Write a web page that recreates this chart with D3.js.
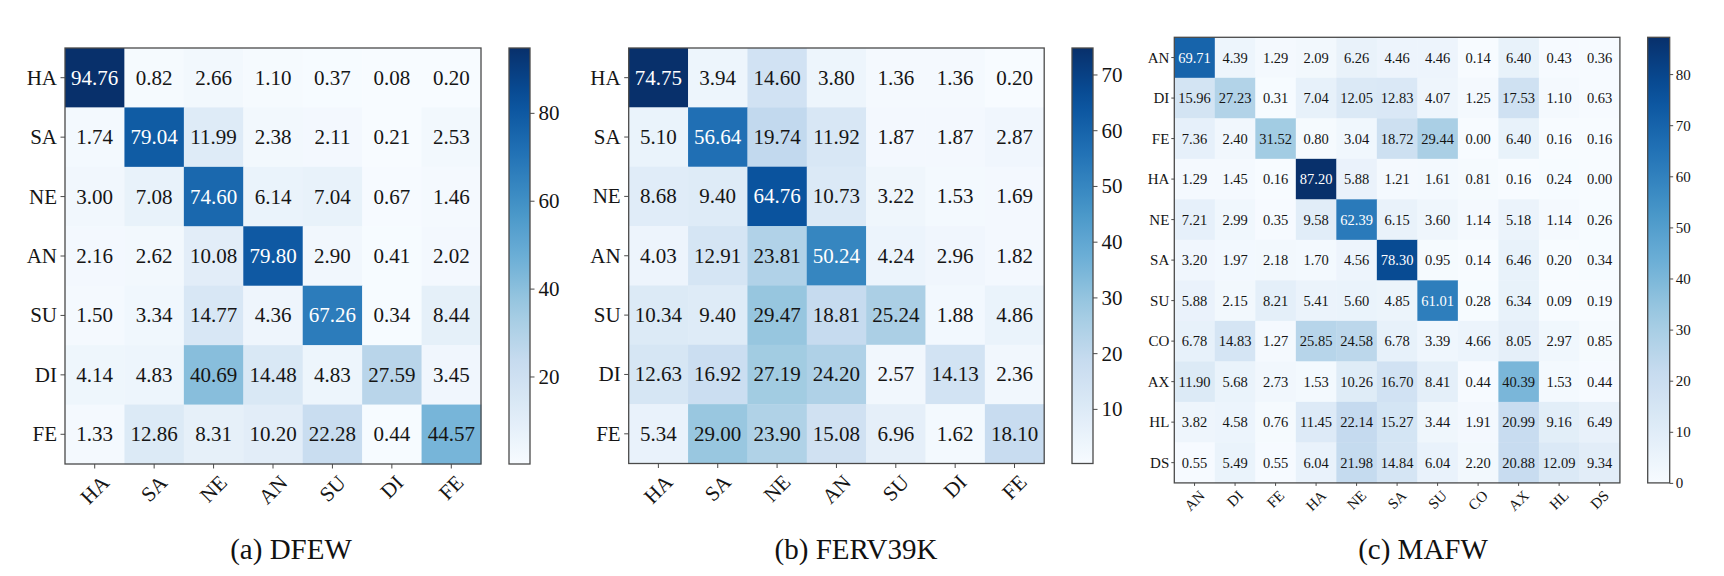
<!DOCTYPE html>
<html>
<head>
<meta charset="utf-8">
<script src="https://cdn.jsdelivr.net/npm/d3@7"></script>
<style>
  html, body { margin: 0; padding: 0; background: #fff; }
  svg { display: block; }
  text { font-family: "Liberation Serif", "Times New Roman", "DejaVu Serif", serif; }
</style>
</head>
<body>
<svg id="chart" width="1724" height="576"></svg>
<script>
// ---------------- DATA ----------------
const dfewLabels = ["HA", "SA", "NE", "AN", "SU", "DI", "FE"];
const dfewValues = [
  [94.76, 0.82, 2.66, 1.10, 0.37, 0.08, 0.20],
  [1.74, 79.04, 11.99, 2.38, 2.11, 0.21, 2.53],
  [3.00, 7.08, 74.60, 6.14, 7.04, 0.67, 1.46],
  [2.16, 2.62, 10.08, 79.80, 2.90, 0.41, 2.02],
  [1.50, 3.34, 14.77, 4.36, 67.26, 0.34, 8.44],
  [4.14, 4.83, 40.69, 14.48, 4.83, 27.59, 3.45],
  [1.33, 12.86, 8.31, 10.20, 22.28, 0.44, 44.57]
];
const dfewTicks = [20, 40, 60, 80];
const dfewCaption = "(a) DFEW";

const fervLabels = ["HA", "SA", "NE", "AN", "SU", "DI", "FE"];
const fervValues = [
  [74.75, 3.94, 14.60, 3.80, 1.36, 1.36, 0.20],
  [5.10, 56.64, 19.74, 11.92, 1.87, 1.87, 2.87],
  [8.68, 9.40, 64.76, 10.73, 3.22, 1.53, 1.69],
  [4.03, 12.91, 23.81, 50.24, 4.24, 2.96, 1.82],
  [10.34, 9.40, 29.47, 18.81, 25.24, 1.88, 4.86],
  [12.63, 16.92, 27.19, 24.20, 2.57, 14.13, 2.36],
  [5.34, 29.00, 23.90, 15.08, 6.96, 1.62, 18.10]
];
const fervTicks = [10, 20, 30, 40, 50, 60, 70];
const fervCaption = "(b) FERV39K";

const mafwLabels = ["AN", "DI", "FE", "HA", "NE", "SA", "SU", "CO", "AX", "HL", "DS"];
const mafwValues = [
  [69.71, 4.39, 1.29, 2.09, 6.26, 4.46, 4.46, 0.14, 6.40, 0.43, 0.36],
  [15.96, 27.23, 0.31, 7.04, 12.05, 12.83, 4.07, 1.25, 17.53, 1.10, 0.63],
  [7.36, 2.40, 31.52, 0.80, 3.04, 18.72, 29.44, 0.00, 6.40, 0.16, 0.16],
  [1.29, 1.45, 0.16, 87.20, 5.88, 1.21, 1.61, 0.81, 0.16, 0.24, 0.00],
  [7.21, 2.99, 0.35, 9.58, 62.39, 6.15, 3.60, 1.14, 5.18, 1.14, 0.26],
  [3.20, 1.97, 2.18, 1.70, 4.56, 78.30, 0.95, 0.14, 6.46, 0.20, 0.34],
  [5.88, 2.15, 8.21, 5.41, 5.60, 4.85, 61.01, 0.28, 6.34, 0.09, 0.19],
  [6.78, 14.83, 1.27, 25.85, 24.58, 6.78, 3.39, 4.66, 8.05, 2.97, 0.85],
  [11.90, 5.68, 2.73, 1.53, 10.26, 16.70, 8.41, 0.44, 40.39, 1.53, 0.44],
  [3.82, 4.58, 0.76, 11.45, 22.14, 15.27, 3.44, 1.91, 20.99, 9.16, 6.49],
  [0.55, 5.49, 0.55, 6.04, 21.98, 14.84, 6.04, 2.20, 20.88, 12.09, 9.34]
];
const mafwTicks = [0, 10, 20, 30, 40, 50, 60, 70, 80];
const mafwCaption = "(c) MAFW";

// ---------------- STYLE / LAYOUT ----------------
const bluesStops = ["#f7fbff", "#deebf7", "#c6dbef", "#9ecae1", "#6baed6",
                    "#4292c6", "#2171b5", "#08519c", "#08306b"];
const blues = d3.scaleLinear()
  .domain(bluesStops.map((_, i) => i / (bluesStops.length - 1)))
  .range(bluesStops)
  .interpolate(d3.interpolateRgb)
  .clamp(true);

const panels = [
  { id: "p1", labels: dfewLabels, values: dfewValues, ticks: dfewTicks, caption: dfewCaption,
    x0: 65, y0: 48, size: 416, cbX: 509, cbW: 21, font: 21, axFont: 21, tickLen: 4.5, pad: 3.5,
    cbTickLen: 4.5, cbPad: 4, capX: 291 },
  { id: "p2", labels: fervLabels, values: fervValues, ticks: fervTicks, caption: fervCaption,
    x0: 628.7, y0: 48, size: 415.5, cbX: 1072, cbW: 21, font: 21, axFont: 21, tickLen: 4.5, pad: 3.5,
    cbTickLen: 4.5, cbPad: 4, capX: 856 },
  { id: "p3", labels: mafwLabels, values: mafwValues, ticks: mafwTicks, caption: mafwCaption,
    x0: 1174.3, y0: 37.3, size: 445.6, cbX: 1647.7, cbW: 22, font: 14.5, axFont: 15, tickLen: 3, pad: 2,
    cbTickLen: 3.5, cbPad: 2.5, capX: 1423 }
];
const captionY = 559;
const captionFont = 29;
const frameColor = "#4a4a4a";
const darkText = "#151515";

const svg = d3.select("#chart");
const defs = svg.append("defs");

panels.forEach(p => {
  const g = svg.append("g").attr("id", p.id);
  const x = d3.scaleBand().domain(p.labels).range([p.x0, p.x0 + p.size]);
  const y = d3.scaleBand().domain(p.labels).range([p.y0, p.y0 + p.size]);
  const flat = p.values.flat();
  const ext = d3.extent(flat);
  const norm = d3.scaleLinear().domain(ext).range([0, 1]);
  const thresh = (ext[0] + ext[1]) / 2;

  const cells = [];
  p.values.forEach((row, i) => row.forEach((v, j) => cells.push({ r: p.labels[i], c: p.labels[j], v })));

  g.append("g").selectAll("rect").data(cells).join("rect")
    .attr("x", d => x(d.c))
    .attr("y", d => y(d.r))
    .attr("width", x.bandwidth() + 0.4)
    .attr("height", y.bandwidth() + 0.4)
    .attr("fill", d => blues(norm(d.v)));

  g.append("g").selectAll("text").data(cells).join("text")
    .attr("x", d => x(d.c) + x.bandwidth() / 2)
    .attr("y", d => y(d.r) + y.bandwidth() / 2)
    .attr("text-anchor", "middle")
    .attr("dominant-baseline", "central")
    .attr("font-size", p.font)
    .attr("fill", d => d.v > thresh ? "#ffffff" : darkText)
    .text(d => d.v.toFixed(2));

  // frame
  g.append("rect")
    .attr("x", p.x0).attr("y", p.y0)
    .attr("width", p.size).attr("height", p.size)
    .attr("fill", "none").attr("stroke", frameColor).attr("stroke-width", 1.3);

  // left axis
  const ya = g.append("g")
    .attr("transform", `translate(${p.x0},0)`)
    .call(d3.axisLeft(y).tickSize(p.tickLen).tickPadding(p.pad));
  ya.select(".domain").remove();
  ya.selectAll(".tick line").attr("stroke", frameColor).attr("stroke-width", 1);
  ya.selectAll(".tick text")
    .attr("font-size", p.axFont)
    .attr("font-family", null)
    .attr("fill", darkText)
    .attr("dy", null)
    .attr("dominant-baseline", "central");

  // bottom axis
  const bottom = p.y0 + p.size;
  const xa = g.append("g")
    .attr("transform", `translate(0,${bottom})`)
    .call(d3.axisBottom(x).tickSize(p.tickLen).tickPadding(p.pad));
  xa.select(".domain").remove();
  xa.selectAll(".tick line").attr("stroke", frameColor).attr("stroke-width", 1);
  xa.selectAll(".tick text")
    .attr("font-size", p.axFont)
    .attr("font-family", null)
    .attr("fill", darkText)
    .attr("dy", null)
    .attr("text-anchor", "middle")
    .attr("dominant-baseline", "central")
    .each(function () {
      const w = this.getComputedTextLength();
      const h = p.axFont * 0.95;
      const bh = (w + h) * Math.SQRT1_2;
      const cy = p.tickLen + p.pad + bh / 2;
      d3.select(this)
        .attr("x", 0).attr("y", 0)
        .attr("transform", `translate(0,${cy}) rotate(-45)`);
    });

  // colorbar
  const gid = "grad-" + p.id;
  const grad = defs.append("linearGradient").attr("id", gid)
    .attr("x1", 0).attr("y1", 1).attr("x2", 0).attr("y2", 0);
  d3.range(0, 1.0001, 0.05).forEach(t => {
    grad.append("stop").attr("offset", t).attr("stop-color", blues(t));
  });
  const cb = d3.scaleLinear().domain(ext).range([bottom, p.y0]);
  g.append("rect")
    .attr("x", p.cbX).attr("y", p.y0)
    .attr("width", p.cbW).attr("height", p.size)
    .attr("fill", `url(#${gid})`)
    .attr("stroke", frameColor).attr("stroke-width", 1.3);
  const ca = g.append("g")
    .attr("transform", `translate(${p.cbX + p.cbW},0)`)
    .call(d3.axisRight(cb).tickValues(p.ticks).tickSize(p.cbTickLen).tickPadding(p.cbPad).tickFormat(d3.format("d")));
  ca.select(".domain").remove();
  ca.selectAll(".tick line").attr("stroke", frameColor).attr("stroke-width", 1);
  ca.selectAll(".tick text")
    .attr("font-size", p.axFont)
    .attr("font-family", null)
    .attr("fill", darkText)
    .attr("dy", null)
    .attr("dominant-baseline", "central");

  // caption
  svg.append("text")
    .attr("x", p.capX).attr("y", captionY)
    .attr("text-anchor", "middle")
    .attr("font-size", captionFont)
    .attr("fill", "#111")
    .text(p.caption);
});
</script>
</body>
</html>
